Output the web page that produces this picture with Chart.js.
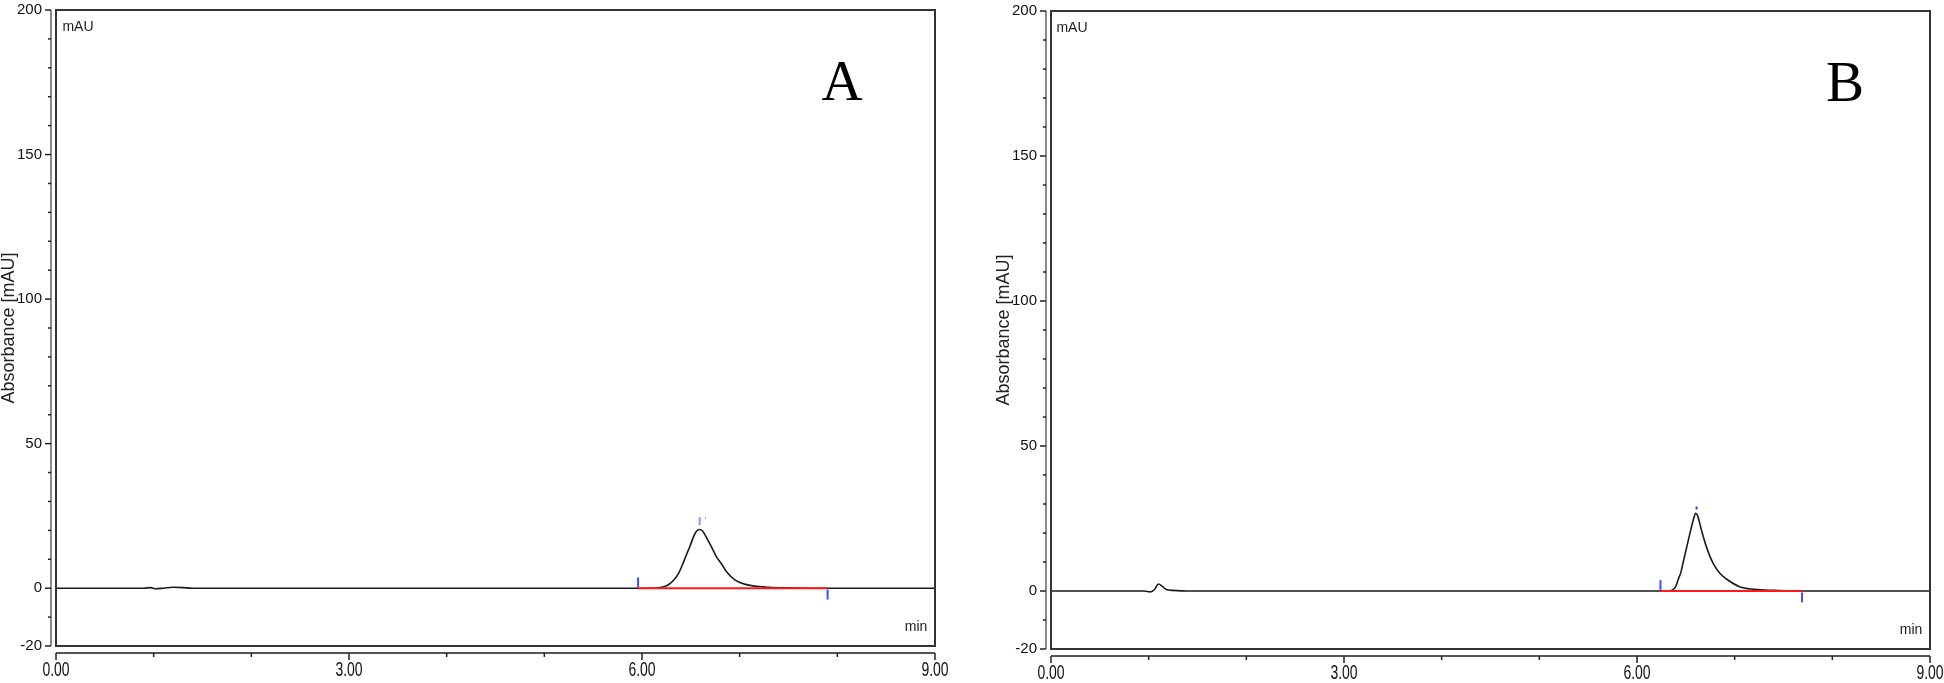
<!DOCTYPE html>
<html>
<head>
<meta charset="utf-8">
<title>Chromatograms A and B</title>
<script src="https://cdn.jsdelivr.net/npm/chart.js@4.4.1/dist/chart.umd.min.js"></script>
<style>
    html, body {
        margin: 0;
        padding: 0;
        background: #ffffff;
        width: 1944px;
        height: 683px;
        overflow: hidden;
    }
    .panel {
        position: absolute;
        top: 0;
    }
    #panelA { left: 0; }
    #panelB { left: 995px; }
</style>
</head>
<body>
<canvas id="panelA" class="panel" width="972" height="683"></canvas>
<canvas id="panelB" class="panel" width="972" height="683"></canvas>
<script>
// --- tick labels ---
const xTickLabels = [0, 3, 6, 9];
const xMinorTicks = [1, 2, 4, 5, 7, 8];
const yTickLabels = [-20, 0, 50, 100, 150, 200];
const yMinorTicks = [-10, 10, 20, 30, 40, 60, 70, 80, 90, 110, 120, 130, 140, 160, 170, 180, 190];

// --- chromatogram A (time in min, absorbance in mAU) ---
const timeA = [0, 0.9, 0.97, 1.02, 1.1, 1.2, 1.3, 1.4, 3.0, 6.0, 6.1, 6.2, 6.27, 6.33, 6.38, 6.42, 6.46, 6.49,
    6.53, 6.56, 6.59, 6.62, 6.66, 6.71, 6.76, 6.81, 6.87, 6.95, 7.05, 7.15, 7.3, 7.5, 7.7, 9.0];
const signalA = [0, 0, 0.2, -0.2, 0, 0.3, 0.2, 0, 0, 0, 0, 0.3, 1.2, 3.0, 5.5, 8.6, 12.0, 14.4,
    18.0, 19.8, 20.3, 19.8, 17.5, 14.4, 11.0, 8.6, 5.5, 2.9, 1.4, 0.7, 0.3, 0.1, 0, 0];
const baselineTimeA = [5.96, 7.90];
const markerTimeA = [5.96, 7.90];
const markerLevelA = [2.0, -2.2];
const peakMarkTimeA = [6.59, 6.65];
const peakMarkLevelA = [23.2, 24.2];

// --- chromatogram B ---
const timeB = [0, 0.95, 1.02, 1.06, 1.1, 1.14, 1.18, 1.25, 1.4, 3.0, 6.0, 6.3, 6.36, 6.4, 6.42, 6.45, 6.47, 6.51,
    6.55, 6.58, 6.6, 6.62, 6.66, 6.71, 6.78, 6.85, 6.93, 7.05, 7.2, 7.4, 7.6, 9.0];
const signalB = [0, 0, -0.3, 0.5, 2.4, 1.6, 0.5, 0.2, 0, 0, 0, 0, 0.3, 1.8, 3.8, 6.5, 9.5, 15.3,
    21.0, 25.0, 26.8, 26.0, 21.0, 15.3, 9.5, 6.0, 3.8, 1.5, 0.6, 0.2, 0, 0];
const baselineTimeB = [6.24, 7.69];
const markerTimeB = [6.24, 7.69];
const markerLevelB = [2.0, -2.2];
const peakMarkTimeB = [6.61];
const peakMarkLevelB = [28.6];

const FONT = '"Liberation Sans", Arial, sans-serif';

// box, offset axes, stretched x labels, unit labels and panel letter
const framePlugin = {
    id: 'frame',
    afterDraw(chart, args, opts) {
        const ctx = chart.ctx;
        const area = chart.chartArea;
        const xs = chart.scales.x;
        const ys = chart.scales.y;
        ctx.save();

        // plot box
        ctx.strokeStyle = '#333333';
        ctx.lineWidth = 2;
        ctx.strokeRect(area.left, area.top, area.right - area.left, area.bottom - area.top);

        // y axis, a little left of the box
        const ax = area.left - 5;
        ctx.strokeStyle = '#8a8a8a';
        ctx.beginPath();
        ctx.moveTo(ax, area.top);
        ctx.lineTo(ax, area.bottom);
        ctx.stroke();
        ctx.strokeStyle = '#222222';
        ctx.lineWidth = 1.5;
        yTickLabels.forEach(v => {
            const py = ys.getPixelForValue(v);
            ctx.beginPath();
            ctx.moveTo(ax - 6, py);
            ctx.lineTo(ax, py);
            ctx.stroke();
        });
        yMinorTicks.forEach(v => {
            const py = ys.getPixelForValue(v);
            ctx.beginPath();
            ctx.moveTo(ax - 3, py);
            ctx.lineTo(ax, py);
            ctx.stroke();
        });

        // x axis, a little below the box
        const ay = area.bottom + 7;
        ctx.strokeStyle = '#555555';
        ctx.lineWidth = 2;
        ctx.beginPath();
        ctx.moveTo(area.left, ay);
        ctx.lineTo(area.right, ay);
        ctx.stroke();
        ctx.strokeStyle = '#222222';
        ctx.lineWidth = 1.5;
        xTickLabels.forEach(v => {
            const px = xs.getPixelForValue(v);
            ctx.beginPath();
            ctx.moveTo(px, ay);
            ctx.lineTo(px, ay + 7);
            ctx.stroke();
        });
        xMinorTicks.forEach(v => {
            const px = xs.getPixelForValue(v);
            ctx.beginPath();
            ctx.moveTo(px, ay);
            ctx.lineTo(px, ay + 4);
            ctx.stroke();
        });

        // x tick labels: the original uses tall, narrow digits
        ctx.fillStyle = '#111111';
        ctx.font = '14px ' + FONT;
        ctx.textAlign = 'center';
        ctx.textBaseline = 'middle';
        xs.ticks.forEach(t => {
            const px = xs.getPixelForValue(t.value);
            ctx.save();
            ctx.translate(px, area.bottom + 25);
            ctx.scale(1, 1.4);
            ctx.fillText(Number(t.value).toFixed(2), 0, 0);
            ctx.restore();
        });

        // unit labels
        ctx.fillStyle = '#222222';
        ctx.font = '14px ' + FONT;
        ctx.fillText('mAU', area.left + opts.mauOffset, area.top + 17);
        ctx.fillText('min', area.right - 19, area.bottom - 19);

        // panel letter
        ctx.fillStyle = '#000000';
        ctx.font = '57px "Liberation Serif", "Times New Roman", serif';
        ctx.fillText(opts.letter, area.right - opts.letterOffset, area.top + 75);

        ctx.restore();
    }
};

function makeChart(canvasId, time, signal, baseTime, mTime, mLevel, pTime, pLevel, letter, peakColor, letterOffset, mauOffset) {
    const ctx = document.getElementById(canvasId);
    return new Chart(ctx, {
        type: 'line',
        data: {
            datasets: [
                {
                    label: 'baseline',
                    data: baseTime.map(t => ({ x: t, y: 0 })),
                    borderColor: '#ff1a1a',
                    borderWidth: 2,
                    pointRadius: 0,
                    order: 0
                },
                {
                    label: 'signal',
                    data: time.map((t, i) => ({ x: t, y: signal[i] })),
                    borderColor: '#1a1a1a',
                    borderWidth: 1.6,
                    pointRadius: 0,
                    cubicInterpolationMode: 'monotone',
                    order: 1
                },
                {
                    label: 'integration marks',
                    data: mTime.map((t, i) => ({ x: t, y: mLevel[i] })),
                    showLine: false,
                    pointStyle: 'line',
                    rotation: 90,
                    pointRadius: 5,
                    pointBorderWidth: 2,
                    pointBorderColor: '#3c4cff',
                    order: 0
                },
                {
                    label: 'peak mark',
                    data: pTime.map((t, i) => ({ x: t, y: pLevel[i] })),
                    showLine: false,
                    pointStyle: 'line',
                    rotation: 90,
                    pointRadius: letter === 'A' ? [4, 0.8] : [1.5],
                    pointBorderWidth: letter === 'A' ? [2, 1] : [2],
                    pointBorderColor: peakColor,
                    order: 0
                }
            ]
        },
        options: {
            responsive: false,
            animation: false,
            layout: {
                padding: { top: canvasId === 'panelA' ? 10 : 11, right: 37, bottom: 0, left: 0 }
            },
            plugins: {
                legend: { display: false },
                tooltip: { enabled: false },
                frame: { letter: letter, letterOffset: letterOffset, mauOffset: mauOffset }
            },
            scales: {
                x: {
                    type: 'linear',
                    min: 0,
                    max: 9,
                    afterBuildTicks: s => { s.ticks = xTickLabels.map(v => ({ value: v })); },
                    afterFit: s => { s.height = canvasId === 'panelA' ? 37 : 34; },
                    grid: { display: false, drawTicks: false },
                    border: { display: false },
                    ticks: { display: false }
                },
                y: {
                    type: 'linear',
                    min: -20,
                    max: 200,
                    afterBuildTicks: s => { s.ticks = yTickLabels.map(v => ({ value: v })); },
                    afterFit: s => {
                        s.width = 56;
                        s.paddingTop = 0;
                        s.paddingBottom = 0;
                    },
                    grid: { display: false, drawTicks: false },
                    border: { display: false },
                    ticks: {
                        padding: 14,
                        autoSkip: false,
                        color: '#111111',
                        font: { family: FONT, size: 15 }
                    },
                    title: {
                        display: true,
                        text: 'Absorbance [mAU]',
                        color: '#222222',
                        padding: 0,
                        font: { family: FONT, size: 18, lineHeight: 1 }
                    }
                }
            }
        },
        plugins: [framePlugin]
    });
}

const chartA = makeChart('panelA', timeA, signalA, baselineTimeA, markerTimeA, markerLevelA,
    peakMarkTimeA, peakMarkLevelA, 'A', '#9c8cf0', 93, 22);
const chartB = makeChart('panelB', timeB, signalB, baselineTimeB, markerTimeB, markerLevelB,
    peakMarkTimeB, peakMarkLevelB, 'B', '#3a40e0', 85, 21);
</script>
</body>
</html>
